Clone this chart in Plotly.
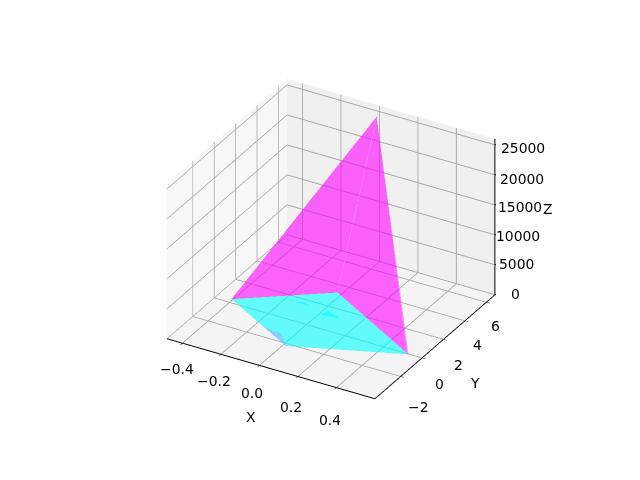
import plotly.graph_objects as go

# vertices: A, B, C, D, E(apex), C2, overlap patches
vx = [-0.405, 0.018, 0.534, -0.021, 0.008, 0.522, 0.016, 0.112, 0.031, -0.137, -0.061, -0.106, -0.152, -0.052]
vy = [0.26, -2.256, -0.077, 3.27, 6.4, -0.012, 0.98, 1.11, 1.46, 1.42, 1.45, 1.6, -1.31, -1.45]
vz = [100, 100, 100, 100, 24850, 100, 300, 300, 300, 300, 300, 300, 300, 300]

tri_i = [0, 3, 5, 0, 1, 6, 9, 1]
tri_j = [4, 4, 4, 1, 2, 7, 10, 12]
tri_k = [3, 5, 2, 3, 3, 8, 11, 13]
MAGENTA = "#ff00ff"
LIGHT_MAGENTA = "#ff55ff"
CYAN = "#00ffff"
BLUE = "#91b7ff"
tri_colors = [MAGENTA, MAGENTA, LIGHT_MAGENTA, CYAN, CYAN, CYAN, CYAN, BLUE]

x_ticks = [-0.4, -0.2, 0.0, 0.2, 0.4]
x_labels = ["\u22120.4", "\u22120.2", "0.0", "0.2", "0.4"]
y_ticks = [-2, 0, 2, 4, 6]
y_labels = ["\u22122", "0", "2", "4", "6"]
z_ticks = [0, 5000, 10000, 15000, 20000, 25000]
z_labels = ["0", "5000", "10000", "15000", "20000", "25000"]
x_range = [-0.48, 0.6]
y_range = [-4.4, 6.8]
z_range = [0, 26000]

FONT = "DejaVu Sans"
TXT = dict(size=13.9, color="black", family=FONT)

fig = go.Figure(go.Mesh3d(
    x=vx, y=vy, z=vz, i=tri_i, j=tri_j, k=tri_k,
    facecolor=tri_colors, opacity=0.6, flatshading=True,
    lighting=dict(ambient=1, diffuse=0, specular=0, fresnel=0, roughness=1),
    showscale=False, hoverinfo="skip",
))
# faint seam in the surface
fig.add_trace(go.Scatter3d(
    x=[vx[4], vx[3]], y=[vy[4], vy[3]], z=[vz[4], vz[3]],
    mode="lines", line=dict(color="#ff70ff", width=1), hoverinfo="skip", showlegend=False,
))
# z axis line on the right-hand edge
fig.add_trace(go.Scatter3d(
    x=[x_range[1], x_range[1]], y=[y_range[1], y_range[1]], z=z_range,
    mode="lines", line=dict(color="black", width=2), hoverinfo="skip", showlegend=False,
))

def axis(rng, tv, tt, bg, native=True):
    return dict(
        title=dict(text=""),
        range=rng, tickmode="array", tickvals=tv, ticktext=tt, tickangle=0,
        showticklabels=False,
        showbackground=True, backgroundcolor=bg,
        gridcolor="#a8a8a8", gridwidth=2, zeroline=False,
        showline=native, linecolor="black", linewidth=2,
        ticks="outside" if native else "", ticklen=4, tickcolor="black", showspikes=False,
        autorange=False,
    )

ann = []
x_dx = [-5, -6.5, -7, -7, -6]
x_dy = [26, 27, 28, 30, 32]
for v, t, dx, dy in zip(x_ticks, x_labels, x_dx, x_dy):
    ann.append(dict(x=v, y=y_range[0], z=0, text=t, showarrow=False, xshift=dx, yshift=-dy, font=TXT))
y_dx = [17, 17, 15, 12.5, 9.5]
y_dy = [31, 26, 26, 24.5, 24]
for v, t, dx, dy in zip(y_ticks, y_labels, y_dx, y_dy):
    ann.append(dict(x=x_range[1], y=v, z=0, text=t, showarrow=False, xshift=dx, yshift=-dy, font=TXT))
z_dx = [21, 22, 23.5, 25.5, 27, 28]
z_dy = [1, 1, -1, -2, -4, -3]
for v, t, dx, dy in zip(z_ticks, z_labels, z_dx, z_dy):
    ann.append(dict(x=x_range[1], y=y_range[1], z=v, text=t, showarrow=False, xshift=dx, yshift=dy, font=TXT))
    ann.append(dict(x=x_range[1], y=y_range[1], z=v, text=" ", showarrow=True, arrowhead=0,
                    arrowwidth=1, arrowcolor="black", ax=4, ay=-1, standoff=0))
ann.append(dict(x=x_range[0] + 0.6, y=y_range[0], z=0, text="X", showarrow=False, xshift=-32, yshift=-45, font=TXT))
ann.append(dict(x=x_range[1], y=0, z=0, text="Y", showarrow=False, xshift=53, yshift=-25, font=TXT))
ann.append(dict(x=x_range[1], y=y_range[1], z=15000, text="Z", showarrow=False, xshift=53, yshift=-4, font=TXT))

r = 1.87
dz = -0.044
cx, cy = -0.0108, -0.00625
fig.update_layout(
    width=640, height=480,
    margin=dict(l=0, r=0, t=0, b=0),
    paper_bgcolor="white",
    showlegend=False,
    scene=dict(
        domain=dict(x=[0, 1], y=[0, 1]),
        xaxis=axis(x_range, x_ticks, x_labels, "#f7f7f7"),
        yaxis=axis(y_range, y_ticks, y_labels, "#f0f0f0"),
        zaxis=axis(z_range, z_ticks, z_labels, "#f4f4f4", native=False),
        aspectmode="manual",
        aspectratio=dict(x=1, y=1, z=0.75),
        camera=dict(
            eye=dict(x=0.433 * r + cx, y=-0.75 * r + cy, z=0.5 * r + dz),
            center=dict(x=cx, y=cy, z=dz),
            up=dict(x=0, y=0, z=1),
            projection=dict(type="orthographic"),
        ),
        annotations=ann,
    ),
)
fig.write_html("out.html")
